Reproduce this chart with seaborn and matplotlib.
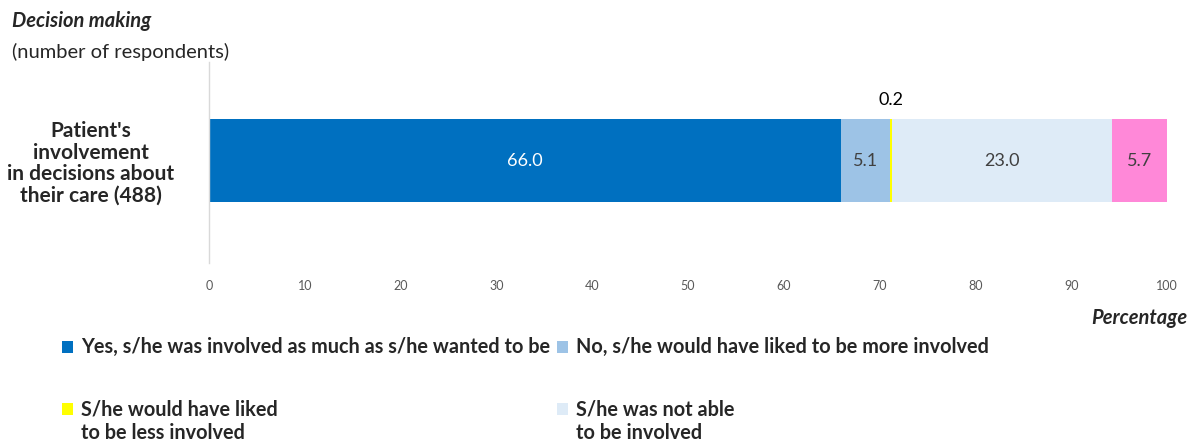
import matplotlib
matplotlib.use("Agg")
import matplotlib.pyplot as plt
from matplotlib.patches import Rectangle
import seaborn as sns
import pandas as pd
import numpy as np

category = "Patient's\ninvolvement\nin decisions about\ntheir care (488)"
series = [
    "Yes, s/he was involved as much as s/he wanted to be",
    "No, s/he would have liked to be more involved",
    "S/he would have liked\nto be less involved",
    "S/he was not able\nto be involved",
]
values = [66.0, 5.1, 0.2, 23.0, 5.7]
colors = ["#0070C0", "#9DC3E6", "#FFFF00", "#DEEBF7", "#FF88D8"]
label_colors = ["white", "#404040", "black", "#404040", "#404040"]
xticks = [0, 10, 20, 30, 40, 50, 60, 70, 80, 90, 100]

sns.set_theme(style="white")
FONT = "Lato"
plt.rcParams["font.family"] = [FONT, "DejaVu Sans"]

fig = plt.figure(figsize=(11.88, 4.42), dpi=100)
ax = fig.add_axes([209 / 1188, 1 - 263 / 442, (1167 - 209) / 1188, (263 - 62) / 442])

cum = np.cumsum(values)
# draw cumulative bars from last to first so each segment shows
for i in range(len(values) - 1, -1, -1):
    df = pd.DataFrame({"cat": [category], "val": [cum[i]]})
    sns.barplot(data=df, x="val", y="cat", orient="h", color=colors[i],
                saturation=1, width=1.0, ax=ax, linewidth=0)

ax.set_xlim(0, 100)
ax.set_ylim(1.235, -1.187)
ax.set_xticks(xticks)
ax.set_xticklabels([str(t) for t in xticks], color="#595959", fontsize=9)
ax.tick_params(axis="x", length=0, pad=12)
ax.tick_params(axis="y", length=0, pad=25)
for lab in ax.get_yticklabels():
    lab.set_fontweight("bold")
    lab.set_fontsize(15)
    lab.set_multialignment("center")
    lab.set_linespacing(1.1)
ax.set_xlabel("")
ax.set_ylabel("")
for s in ["top", "right", "bottom"]:
    ax.spines[s].set_visible(False)
ax.spines["left"].set_color("#D9D9D9")
ax.spines["left"].set_linewidth(1)

# value labels
starts = np.concatenate([[0], cum[:-1]])
for i, v in enumerate(values):
    mid = starts[i] + v / 2
    if v < 1:
        ax.text(mid, -0.5 - 0.13, f"{v:.1f}", ha="center", va="bottom",
                color=label_colors[i], fontsize=13)
    else:
        ax.text(mid, 0, f"{v:.1f}", ha="center", va="center",
                color=label_colors[i], fontsize=13)

# title
fig.text(12 / 1188, 1 - 21 / 442, "Decision making", fontsize=14.5, fontweight="bold",
         fontstyle="italic", ha="left", va="center")
fig.text(12 / 1188, 1 - 52 / 442, "(number of respondents)", fontsize=14.5,
         ha="left", va="center", color="#262626")

fig.text(1187 / 1188, 1 - 318 / 442, "Percentage", fontsize=14.5, fontweight="bold",
         fontstyle="italic", ha="right", va="center")

# legend (manual; only the entries visible in the reference)
leg_pos = [(62, 347), (557, 347), (62, 409), (557, 409)]
for i, (lx, ly) in enumerate(leg_pos):
    fig.patches.append(Rectangle(((lx) / 1188, 1 - (ly + 6) / 442), 11 / 1188, 12 / 442,
                                 transform=fig.transFigure, facecolor=colors[i],
                                 edgecolor="none"))
    for j, line in enumerate(series[i].split("\n")):
        fig.text((lx + 19) / 1188, 1 - (ly + 24 * j) / 442, line, fontsize=14.3,
                 fontweight="bold", ha="left", va="center")

fig.savefig("out.png", dpi=100)
